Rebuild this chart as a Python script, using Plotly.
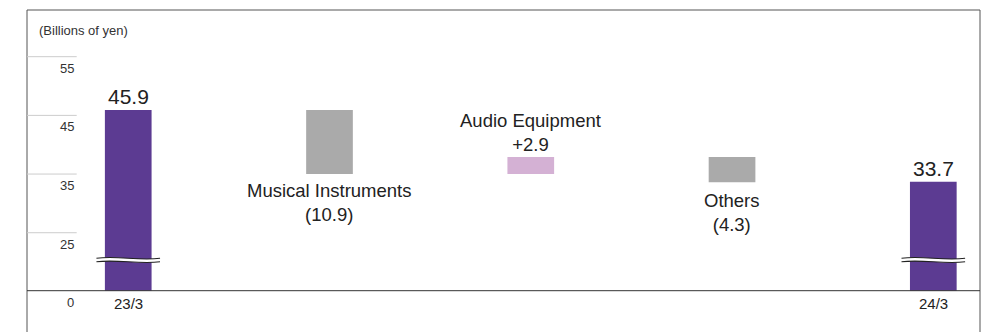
import plotly.graph_objects as go

# ---- data ----
categories = ["23/3", "Musical Instruments", "Audio Equipment", "Others", "24/3"]
start_value = 45.9
end_value = 33.7
delta_names = ["Musical Instruments", "Audio Equipment", "Others"]
delta_values = [-10.9, 2.9, -4.3]
delta_labels = ["(10.9)", "+2.9", "(4.3)"]
y_ticks = [55, 45, 35, 25]
x_tick_labels = ["23/3", "24/3"]

# ---- axis geometry (broken axis: baseline represents 0) ----
Y_TOP = 62.96
Y_BOT = 8.08
BASE = 15.12          # value at which the "0" baseline is drawn
BREAK_Y = 20.35       # where the wavy break marks sit
X_MIN, X_MAX = -0.503, 4.232
BAR_W = 0.232

PURPLE = "#5c3b92"
GRAY = "#aaaaaa"
PINK = "#d4b1d4"
TXT = "#222222"
FONT = "Liberation Sans, Arial, sans-serif"

xs = list(range(len(categories)))

# compute waterfall bases / heights
bases, heights, colors = [], [], []
bases.append(BASE); heights.append(start_value - BASE); colors.append(PURPLE)
level = start_value
for d in delta_values:
    new = level + d
    lo = min(level, new)
    bases.append(lo); heights.append(abs(d))
    colors.append(PINK if d > 0 else GRAY)
    level = new
bases.append(BASE); heights.append(end_value - BASE); colors.append(PURPLE)

fig = go.Figure()
fig.add_trace(go.Bar(x=xs, y=heights, base=bases, width=BAR_W,
                     marker=dict(color=colors, line=dict(width=0)),
                     hoverinfo="skip", showlegend=False))

shapes = []
ann = []

# frame
shapes.append(dict(type="line", xref="paper", yref="paper", x0=0, x1=0, y0=0, y1=1,
                   line=dict(color="#555555", width=1)))
shapes.append(dict(type="line", xref="paper", yref="paper", x0=1, x1=1, y0=0, y1=1,
                   line=dict(color="#555555", width=1)))
shapes.append(dict(type="line", xref="paper", yref="paper", x0=0, x1=1, y0=1, y1=1,
                   line=dict(color="#555555", width=1)))
# baseline
shapes.append(dict(type="line", xref="paper", yref="y", x0=0, x1=1, y0=BASE, y1=BASE,
                   line=dict(color="#333333", width=1)))

# short gridlines + tick labels
grid_x1 = (76.7 - 27) / 953
for t in y_ticks:
    shapes.append(dict(type="line", xref="paper", yref="y", x0=0, x1=grid_x1, y0=t, y1=t,
                       line=dict(color="#cccccc", width=1)))
    ann.append(dict(xref="paper", yref="y", x=grid_x1 - 0.001, y=t, text=str(t),
                    xanchor="right", yanchor="top", yshift=-2, showarrow=False,
                    font=dict(size=13, color="#333333", family=FONT)))
ann.append(dict(xref="paper", yref="y", x=grid_x1 - 0.001, y=BASE, text="0",
                xanchor="right", yanchor="top", yshift=-2, showarrow=False,
                font=dict(size=13, color="#333333", family=FONT)))

# unit label
ann.append(dict(xref="paper", yref="paper", x=(37 - 27) / 953, y=1, text="(Billions of yen)",
                xanchor="left", yanchor="top", yshift=-11, showarrow=False,
                font=dict(size=13, color="#333333", family=FONT)))

# x labels under the total bars
for xi, lab in zip([xs[0], xs[-1]], x_tick_labels):
    ann.append(dict(x=xi, y=BASE, text=lab, xanchor="center", yanchor="top", yshift=-2,
                    showarrow=False, font=dict(size=15, color=TXT, family=FONT)))

# total value labels
ann.append(dict(x=xs[0], y=start_value, text=f"{start_value:.1f}", xanchor="center",
                yanchor="bottom", yshift=0, showarrow=False,
                font=dict(size=21, color=TXT, family=FONT)))
ann.append(dict(x=xs[-1], y=end_value, text=f"{end_value:.1f}", xanchor="center",
                yanchor="bottom", yshift=0, showarrow=False,
                font=dict(size=21, color=TXT, family=FONT)))

# delta labels
for i, (nm, d, lab) in enumerate(zip(delta_names, delta_values, delta_labels)):
    xi = xs[i + 1]
    b = bases[i + 1]; h = heights[i + 1]
    txt = f"{nm}<br>{lab}"
    if d > 0:
        ann.append(dict(x=xi, y=b + h, text=txt, xanchor="center", yanchor="bottom",
                        yshift=0, showarrow=False,
                        font=dict(size=18.5, color=TXT, family=FONT)))
    else:
        shift = -4 if i == 0 else -6
        ann.append(dict(x=xi, y=b, text=txt, xanchor="center", yanchor="top",
                        yshift=shift, showarrow=False,
                        font=dict(size=18.5, color=TXT, family=FONT)))

# wavy break marks on the two total bars
def wave(xc, yc, half_w=0.158, a=0.5, gap=0.3):
    x0, x1 = xc - half_w, xc + half_w
    w = x1 - x0
    def curve(y):
        return (f"M{x0},{y} C{x0 + w/3},{y + a} {x0 + 2*w/3},{y - a} {x1},{y}")
    fill = (f"M{x0},{yc + gap} C{x0 + w/3},{yc + gap + a} {x0 + 2*w/3},{yc + gap - a} {x1},{yc + gap} "
            f"L{x1},{yc - gap} C{x0 + 2*w/3},{yc - gap - a} {x0 + w/3},{yc - gap + a} {x0},{yc - gap} Z")
    return [
        dict(type="path", xref="x", yref="y", path=fill, fillcolor="white",
             line=dict(width=0)),
        dict(type="path", xref="x", yref="y", path=curve(yc + gap),
             line=dict(color="#222222", width=1.2)),
        dict(type="path", xref="x", yref="y", path=curve(yc - gap),
             line=dict(color="#222222", width=1.2)),
    ]

shapes += wave(xs[0], BREAK_Y)
shapes += wave(xs[-1], BREAK_Y)

fig.update_layout(
    width=989, height=332,
    margin=dict(l=27, r=9, t=10, b=0),
    paper_bgcolor="white", plot_bgcolor="white",
    xaxis=dict(range=[X_MIN, X_MAX], showticklabels=False, showgrid=False,
               zeroline=False, showline=False, ticks=""),
    yaxis=dict(range=[Y_BOT, Y_TOP], showticklabels=False, showgrid=False,
               zeroline=False, showline=False, ticks=""),
    shapes=shapes, annotations=ann,
    font=dict(family=FONT),
)

fig.write_html("out.html")
